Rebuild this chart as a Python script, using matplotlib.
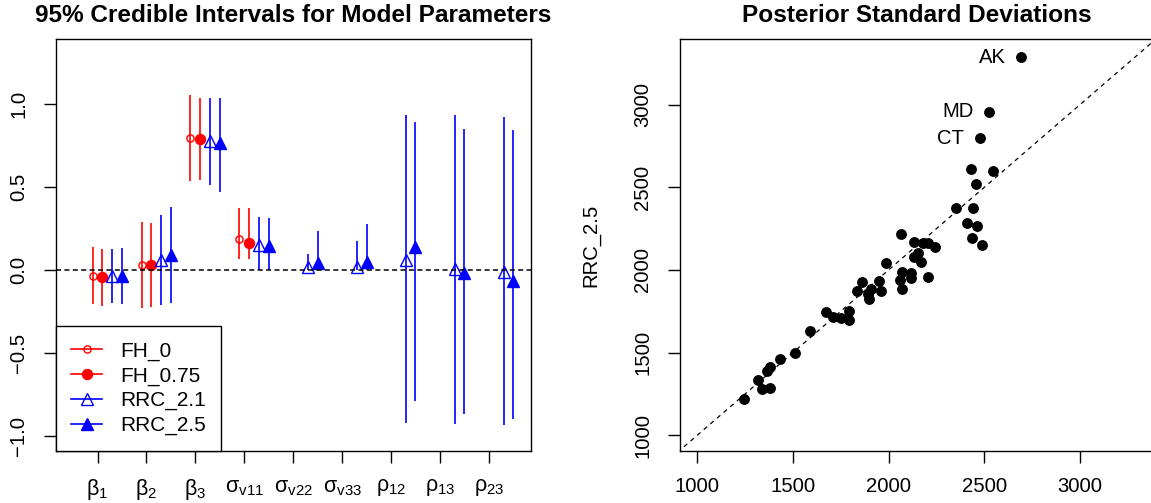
import numpy as np
import matplotlib
matplotlib.use('Agg')
import matplotlib.pyplot as plt
from matplotlib.lines import Line2D

plt.rcParams['font.family'] = ['Liberation Sans', 'DejaVu Sans']
plt.rcParams['font.size'] = 14.6
plt.rcParams['mathtext.fontset'] = 'custom'
plt.rcParams['mathtext.rm'] = 'Liberation Sans'
plt.rcParams['mathtext.it'] = 'Liberation Sans'
plt.rcParams['mathtext.default'] = 'regular'

# ---- data: credible intervals ----
param_labels = [r'$\beta_1$', r'$\beta_2$', r'$\beta_3$', r'$\sigma_{v11}$', r'$\sigma_{v22}$',
                r'$\sigma_{v33}$', r'$\rho_{12}$', r'$\rho_{13}$', r'$\rho_{23}$']
nan = np.nan

fh0_est = [-0.036, 0.030, 0.794, 0.186, nan, nan, nan, nan, nan]
fh0_lo = [-0.206, -0.228, 0.534, 0.065, nan, nan, nan, nan, nan]
fh0_hi = [0.139, 0.288, 1.053, 0.373, nan, nan, nan, nan, nan]

fh075_est = [-0.044, 0.032, 0.790, 0.161, nan, nan, nan, nan, nan]
fh075_lo = [-0.220, -0.222, 0.540, 0.065, nan, nan, nan, nan, nan]
fh075_hi = [0.127, 0.284, 1.036, 0.373, nan, nan, nan, nan, nan]

rrc21_est = [-0.036, 0.060, 0.780, 0.149, 0.016, 0.020, 0.060, 0.008, -0.010]
rrc21_lo = [-0.200, -0.212, 0.510, 0.0, 0.0, 0.0, -0.924, -0.930, -0.934]
rrc21_hi = [0.125, 0.331, 1.036, 0.319, 0.095, 0.175, 0.932, 0.932, 0.924]

rrc25_est = [-0.036, 0.089, 0.764, 0.141, 0.040, 0.050, 0.137, -0.018, -0.070]
rrc25_lo = [-0.206, -0.198, 0.468, 0.0, 0.0, 0.0, -0.790, -0.871, -0.901]
rrc25_hi = [0.133, 0.377, 1.036, 0.315, 0.232, 0.278, 0.893, 0.847, 0.841]

# ---- data: posterior standard deviations ----
sd_fh = [2694, 2526, 2475, 2431, 2545, 2456, 2351, 2439, 2408, 2463, 2437, 2486,
         2063, 2135, 2179, 2204, 2242, 2152, 2135, 2170, 1988, 2072, 2116, 2204,
         2059, 2116, 2068, 1950, 1962, 1861, 1834, 1908, 1893, 1897, 1792, 1794,
         1752, 1712, 1672, 1591, 1509, 1431, 1380, 1363, 1317, 1340, 1382, 1246]
sd_rrc = [3286, 2956, 2798, 2609, 2601, 2518, 2375, 2375, 2284, 2264, 2196, 2149,
          2218, 2172, 2163, 2163, 2141, 2103, 2077, 2046, 2040, 1990, 1980, 1958,
          1940, 1954, 1885, 1935, 1873, 1927, 1873, 1883, 1853, 1827, 1752, 1696,
          1708, 1716, 1744, 1633, 1498, 1464, 1411, 1387, 1337, 1280, 1286, 1220]
state_labels = {0: 'AK', 1: 'MD', 2: 'CT'}

red = '#FF0000'
blue = '#0000FF'

fig = plt.figure(figsize=(11.51, 5.03), dpi=100)
W, H = 1151, 503
ax1 = fig.add_axes([55.5 / W, (H - 451) / H, 475.4 / W, 412 / H])
ax2 = fig.add_axes([679.6 / W, (H - 451) / H, 475.4 / W, 412 / H])

pos = np.arange(1, 10)
series = [
    (fh0_est, fh0_lo, fh0_hi, -0.1, red, 'o', 'none', 5.2, 'FH_0'),
    (fh075_est, fh075_lo, fh075_hi, 0.1, red, 'o', red, 7.2, 'FH_0.75'),
    (rrc21_est, rrc21_lo, rrc21_hi, 0.3, blue, '^', 'none', 8.5, 'RRC_2.1'),
    (rrc25_est, rrc25_lo, rrc25_hi, 0.5, blue, '^', blue, 8.5, 'RRC_2.5'),
]
handles = []
for est, lo, hi, off, col, mk, fc, ms, lab in series:
    x = pos + off
    ax1.vlines(x, lo, hi, color=col, lw=1.2)
    ax1.plot(x, est, linestyle='none', marker=mk, ms=ms, mfc=fc, mec=col, mew=1.0)
    handles.append(Line2D([], [], color=col, lw=1.2, marker=mk, ms=ms, mfc=fc, mec=col,
                          mew=1.0, label=lab))

ax1.axhline(0, color='black', lw=1.1, dashes=(3.3, 2.2))
ax1.set_xlim(0.14, 9.86)
ax1.set_ylim(-1.092, 1.392)
ax1.set_xticks(pos)
ax1.set_xticklabels(param_labels, fontsize=15.5)
ax1.set_yticks([-1.0, -0.5, 0.0, 0.5, 1.0])
ax1.set_yticklabels(['\u22121.0', '\u22120.5', '0.0', '0.5', '1.0'])
ax1.set_title('95% Credible Intervals for Model Parameters', fontsize=17.6,
              fontweight='bold', pad=12.5)
leg = ax1.legend(handles=handles, loc='lower left', bbox_to_anchor=(0, 0),
                 borderaxespad=0, fancybox=False, edgecolor='black', framealpha=1,
                 handlelength=1.5, handletextpad=0.85, borderpad=0.75,
                 labelspacing=0.27, numpoints=1, fontsize=15)
leg.get_frame().set_linewidth(1.0)

ax2.plot(sd_fh, sd_rrc, linestyle='none', marker='o', ms=6.8, color='black')
ax2.plot([0, 4000], [0, 4000], color='black', lw=0.9, dashes=(3.5, 3.5))
for i, lab in state_labels.items():
    ax2.annotate(lab, (sd_fh[i], sd_rrc[i]), xytext=(-11, 0), textcoords='offset points',
                 ha='right', va='center')
ax2.set_xlim(908, 3392)
ax2.set_ylim(905, 3397)
ax2.set_xticks([1000, 1500, 2000, 2500, 3000])
ax2.set_yticks([1000, 1500, 2000, 2500, 3000])
ax2.set_ylabel('RRC_2.5')
ax2.yaxis.set_label_coords(-0.166, 0.5)
ax2.set_title('Posterior Standard Deviations', fontsize=17.6, fontweight='bold', pad=12.5)

for ax in (ax1, ax2):
    for sp in ax.spines.values():
        sp.set_linewidth(1.0)
    ax.tick_params(axis='both', length=8.6, width=1.0, direction='out')
    ax.tick_params(axis='x', pad=10)
    ax.tick_params(axis='y', pad=11, labelrotation=90)
    for t in ax.get_yticklabels():
        t.set_va('center')

fig.savefig('out.png', dpi=100)
